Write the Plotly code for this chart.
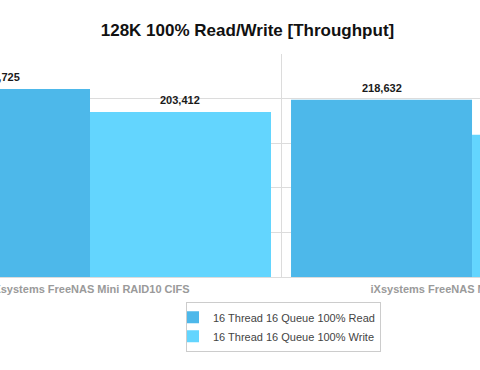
import plotly.graph_objects as go

categories = ["iXsystems FreeNAS Mini RAID10 CIFS", "iXsystems FreeNAS Mini RAID10 iSCSI"]
read_vals = [231725, 218632]
write_vals = [203412, 175400]
series_names = ["16 Thread 16 Queue 100% Read", "16 Thread 16 Queue 100% Write"]
colors = ["#4DB8EA", "#63D5FE"]

W, H = 480, 370
x_range = [-0.2356, 1.0209]
bargap = 0.0524
px_per_cat = W / (x_range[1] - x_range[0])
half_bar_px = (1 - bargap) / 2 / 2 * px_per_cat

fig = go.Figure()
annotations = []
for si, (name, vals, col) in enumerate(zip(series_names, [read_vals, write_vals], colors)):
    fig.add_trace(go.Bar(
        x=categories, y=vals, name=name,
        marker=dict(color=col, line=dict(width=0)),
    ))
    sign = -1 if si == 0 else 1
    for ci, v in enumerate(vals):
        annotations.append(dict(
            x=ci, y=v, xref="x", yref="y", text=f"{v:,}", showarrow=False,
            xanchor="center", yanchor="bottom", xshift=sign * half_bar_px, yshift=4,
            font=dict(family="Liberation Sans, Arial", size=11, color="#1a1a1a", weight="bold"),
        ))

fig.update_layout(
    width=W, height=H,
    margin=dict(l=0, r=0, t=54, b=93, autoexpand=False),
    paper_bgcolor="white", plot_bgcolor="white",
    barmode="group", bargap=bargap, bargroupgap=0,
    font=dict(family="Liberation Sans, Arial", size=11, color="#333"),
    title=dict(text="128K 100% Read/Write [Throughput]", x=0.5156, xanchor="center",
               y=1 - 30 / H, yanchor="middle",
               font=dict(size=17, color="#111", weight="bold")),
    xaxis=dict(type="category", range=x_range, tickson="boundaries",
               automargin=False,
               showgrid=True, gridcolor="#dcdcdc", ticklen=0,
               showline=True, linecolor="#dcdcdc", ticklabelstandoff=2,
               tickfont=dict(size=11, color="#9a9a9a", weight="bold")),
    yaxis=dict(range=[0, 275000], dtick=55000, showgrid=True, gridcolor="#dcdcdc",
               automargin=False,
               showticklabels=False, zeroline=False),
    legend=dict(x=186 / W, y=-0.111, xanchor="left", yanchor="top",
                bordercolor="#cccccc", borderwidth=1, itemwidth=30, indentation=-14,
                font=dict(size=11, color="#444")),
    annotations=annotations,
    showlegend=True,
)

fig.write_html("out.html")
